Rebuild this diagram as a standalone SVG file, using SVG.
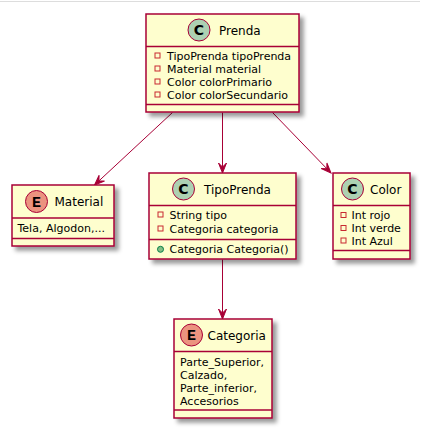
<svg xmlns="http://www.w3.org/2000/svg" width="421" height="437" viewBox="0 0 421 437">
<defs>
<filter id="sh" x="-20%" y="-20%" width="150%" height="150%">
<feGaussianBlur in="SourceAlpha" stdDeviation="2" result="b"/>
<feColorMatrix in="b" type="matrix" values="0 0 0 0 0  0 0 0 0 0  0 0 0 0 0  0 0 0 .4 0" result="b2"/>
<feOffset in="b2" dx="4" dy="4" result="b3"/>
<feBlend in="SourceGraphic" in2="b3" mode="normal"/>
</filter>
<marker id="arr" markerUnits="userSpaceOnUse" markerWidth="12" markerHeight="12" viewBox="0 0 12 10" refX="10" refY="5" orient="auto" overflow="visible">
<path d="M0,1 L10,5 L0,9 L4,5 Z" fill="#A80036" stroke="#A80036" stroke-width="1"/>
</marker>
</defs>
<style>
.box{fill:#FEFECE;stroke:#A80036;stroke-width:1.5}
.sep{stroke:#A80036;stroke-width:1.5}
.ttl{font-family:"DejaVu Sans",sans-serif;font-size:12px;font-weight:normal;fill:#000}
.attr{font-family:"DejaVu Sans",sans-serif;font-size:11px;font-weight:normal;fill:#000}
.cc{fill:#ADD1B2;stroke:#A80036;stroke-width:1}
.ce{fill:#EB937F;stroke:#A80036;stroke-width:1}
.lc{font-family:"DejaVu Sans",sans-serif;font-weight:bold;font-size:14px;fill:#000}
.le{font-family:"Liberation Mono",monospace;font-weight:bold;font-size:15px;fill:#000}
.priv{fill:none;stroke:#C82930;stroke-width:1}
.pub{fill:#84BE84;stroke:#038048;stroke-width:1}
.link{fill:none;stroke:#A80036;stroke-width:1}
</style>
<line x1="0" y1="1.5" x2="420" y2="1.5" stroke="#dddddd" stroke-width="1"/>

<g id="connectors">
<path class="link" d="M172.5,112.5 L94.5,185" marker-end="url(#arr)"/>
<path class="link" d="M222.5,112.5 L222.5,173" marker-end="url(#arr)"/>
<path class="link" d="M272.5,112.5 L331,173" marker-end="url(#arr)"/>
<path class="link" d="M222.5,259.5 L222.5,319" marker-end="url(#arr)"/>
</g>

<g id="Prenda">
<rect class="box" x="146" y="14" width="153" height="98" filter="url(#sh)"/>
<circle class="cc" cx="199" cy="30" r="11"/>
<text class="lc" x="199" y="35" text-anchor="middle">C</text>
<text class="ttl" x="219" y="34.5">Prenda</text>
<line class="sep" x1="146" y1="46.5" x2="299" y2="46.5"/>
<rect class="priv" x="155" y="53" width="5" height="5"/>
<text class="attr" x="167" y="60">TipoPrenda tipoPrenda</text>
<rect class="priv" x="155" y="66" width="5" height="5"/>
<text class="attr" x="167" y="73">Material material</text>
<rect class="priv" x="155" y="79" width="5" height="5"/>
<text class="attr" x="167" y="86">Color colorPrimario</text>
<rect class="priv" x="155" y="92" width="5" height="5"/>
<text class="attr" x="167" y="99">Color colorSecundario</text>
<line class="sep" x1="146" y1="104.5" x2="299" y2="104.5"/>
</g>

<g id="Material">
<rect class="box" x="12" y="185" width="102" height="61" filter="url(#sh)"/>
<circle class="ce" cx="36.5" cy="201.5" r="11"/>
<text class="le" x="36.5" y="206.5" text-anchor="middle">E</text>
<text class="ttl" x="54.5" y="206">Material</text>
<line class="sep" x1="12" y1="218" x2="114" y2="218"/>
<text class="attr" x="17.5" y="232">Tela, Algodon,...</text>
<line class="sep" x1="12" y1="238.5" x2="114" y2="238.5"/>
</g>

<g id="TipoPrenda">
<rect class="box" x="149" y="173" width="147" height="86" filter="url(#sh)"/>
<circle class="cc" cx="183.5" cy="189" r="11"/>
<text class="lc" x="183.5" y="194" text-anchor="middle">C</text>
<text class="ttl" x="204" y="193.5">TipoPrenda</text>
<line class="sep" x1="149" y1="205.5" x2="296" y2="205.5"/>
<rect class="priv" x="158" y="212" width="5" height="5"/>
<text class="attr" x="169.5" y="219">String tipo</text>
<rect class="priv" x="158" y="226" width="5" height="5"/>
<text class="attr" x="169.5" y="232.5">Categoria categoria</text>
<line class="sep" x1="149" y1="239.5" x2="296" y2="239.5"/>
<circle class="pub" cx="160.5" cy="249.3" r="3"/>
<text class="attr" x="169.5" y="253">Categoria Categoria()</text>
</g>

<g id="Color">
<rect class="box" x="333" y="173" width="77" height="86" filter="url(#sh)"/>
<circle class="cc" cx="352.5" cy="189" r="11"/>
<text class="lc" x="352.5" y="194" text-anchor="middle">C</text>
<text class="ttl" x="370" y="193.5">Color</text>
<line class="sep" x1="333" y1="205.5" x2="410" y2="205.5"/>
<rect class="priv" x="341" y="212.5" width="5" height="5"/>
<text class="attr" x="351.5" y="219">Int rojo</text>
<rect class="priv" x="341" y="225.5" width="5" height="5"/>
<text class="attr" x="351.5" y="232">Int verde</text>
<rect class="priv" x="341" y="238" width="5" height="5"/>
<text class="attr" x="351.5" y="244.5">Int Azul</text>
<line class="sep" x1="333" y1="250.5" x2="410" y2="250.5"/>
</g>

<g id="Categoria">
<rect class="box" x="174" y="319" width="98" height="99" filter="url(#sh)"/>
<circle class="ce" cx="191.5" cy="335" r="11"/>
<text class="le" x="191.5" y="340" text-anchor="middle">E</text>
<text class="ttl" x="207.5" y="339.5">Categoria</text>
<line class="sep" x1="174" y1="351.5" x2="272" y2="351.5"/>
<text class="attr" x="180" y="365.5">Parte_Superior,</text>
<text class="attr" x="180" y="378.5">Calzado,</text>
<text class="attr" x="180" y="391.5">Parte_inferior,</text>
<text class="attr" x="180" y="404.5">Accesorios</text>
<line class="sep" x1="174" y1="410" x2="272" y2="410"/>
</g>
</svg>
